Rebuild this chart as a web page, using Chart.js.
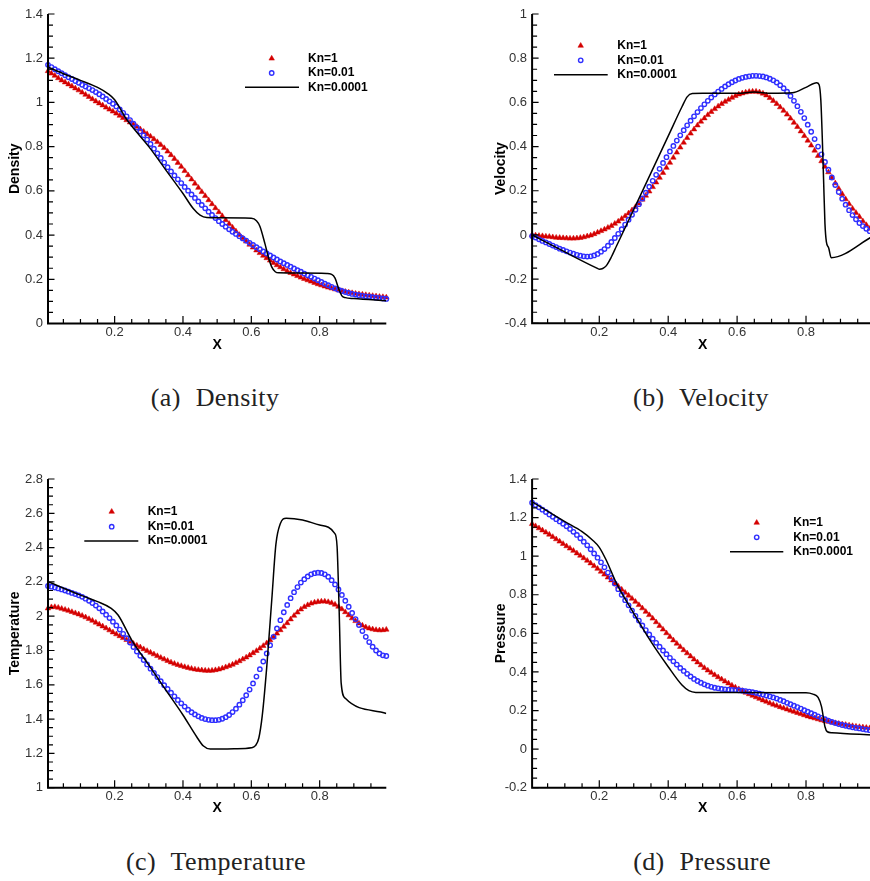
<!DOCTYPE html>
<html>
<head>
<meta charset="utf-8">
<title>Kn comparison</title>
<script src="https://cdn.jsdelivr.net/npm/chart.js@4.4.0/dist/chart.umd.min.js"></script>
<style>
  html, body { margin: 0; padding: 0; background: #fff; }
  body { position: relative; width: 870px; height: 881px; overflow: hidden; }
  .panel { position: absolute; height: 360px; }
  .caption {
    position: absolute; width: 300px; text-align: center;
    font-family: "Liberation Serif", "DejaVu Serif", serif;
    font-size: 26px; line-height: 26px; color: #222;
    letter-spacing: 0.4px; word-spacing: 8px;
  }
</style>
</head>
<body>
<div class="panel" style="left:0;top:0;width:435px"><canvas id="density"></canvas></div>
<div class="panel" style="left:435px;top:0;width:445px"><canvas id="velocity"></canvas></div>
<div class="panel" style="left:0;top:460px;width:435px"><canvas id="temperature"></canvas></div>
<div class="panel" style="left:435px;top:460px;width:445px"><canvas id="pressure"></canvas></div>

<div class="caption" style="left:65px;top:385px">(a) Density</div>
<div class="caption" style="left:551px;top:385px">(b) Velocity</div>
<div class="caption" style="left:66px;top:849px">(c) Temperature</div>
<div class="caption" style="left:552px;top:849px">(d) Pressure</div>

<script>
// cell centres of the 100-cell grid
const cellX = Array.from({ length: 100 }, (_, i) => (i + 0.5) / 100);
const X_MIN = 0.005;
const X_MAX = 0.995;

const xTickLabels = ['0.2', '0.4', '0.6', '0.8'];
const densityTickLabels = ['0', '0.2', '0.4', '0.6', '0.8', '1', '1.2', '1.4'];
const velocityTickLabels = ['-0.4', '-0.2', '0', '0.2', '0.4', '0.6', '0.8', '1'];
const temperatureTickLabels = ['1', '1.2', '1.4', '1.6', '1.8', '2', '2.2', '2.4', '2.6', '2.8'];
const pressureTickLabels = ['-0.2', '0', '0.2', '0.4', '0.6', '0.8', '1', '1.2', '1.4'];

// ---- density ----
const densityKn1 = [
  1.142, 1.131, 1.121, 1.110, 1.100, 1.091, 1.082, 1.073, 1.064, 1.055,
  1.045, 1.035, 1.025, 1.015, 1.005, 0.996, 0.987, 0.977, 0.968, 0.959,
  0.950, 0.940, 0.930, 0.920, 0.910, 0.900, 0.890, 0.879, 0.868, 0.857,
  0.846, 0.834, 0.821, 0.808, 0.794, 0.778, 0.762, 0.745, 0.727, 0.709,
  0.690, 0.671, 0.652, 0.633, 0.614, 0.595, 0.577, 0.558, 0.540, 0.522,
  0.504, 0.486, 0.468, 0.451, 0.434, 0.417, 0.401, 0.386, 0.371, 0.357,
  0.344, 0.331, 0.319, 0.307, 0.296, 0.285, 0.274, 0.264, 0.255, 0.246,
  0.237, 0.229, 0.222, 0.215, 0.208, 0.202, 0.196, 0.190, 0.184, 0.178,
  0.173, 0.168, 0.163, 0.159, 0.155, 0.151, 0.147, 0.144, 0.141, 0.138,
  0.135, 0.133, 0.131, 0.129, 0.127, 0.125, 0.123, 0.121, 0.120, 0.118
];
const densityKn001 = [
  1.170, 1.160, 1.150, 1.141, 1.132, 1.123, 1.114, 1.106, 1.097, 1.089,
  1.080, 1.072, 1.064, 1.056, 1.047, 1.037, 1.027, 1.016, 1.005, 0.994,
  0.982, 0.968, 0.953, 0.937, 0.920, 0.904, 0.887, 0.869, 0.851, 0.832,
  0.812, 0.791, 0.770, 0.749, 0.728, 0.707, 0.688, 0.670, 0.652, 0.635,
  0.618, 0.601, 0.584, 0.568, 0.552, 0.536, 0.521, 0.506, 0.491, 0.477,
  0.463, 0.450, 0.438, 0.426, 0.415, 0.405, 0.395, 0.385, 0.375, 0.365,
  0.355, 0.345, 0.336, 0.326, 0.317, 0.308, 0.299, 0.290, 0.281, 0.273,
  0.265, 0.257, 0.249, 0.241, 0.234, 0.226, 0.218, 0.211, 0.203, 0.196,
  0.188, 0.180, 0.173, 0.166, 0.159, 0.153, 0.147, 0.142, 0.138, 0.134,
  0.131, 0.128, 0.125, 0.123, 0.121, 0.119, 0.117, 0.115, 0.113, 0.111
];
const densityLineX = [0.005, 0.05, 0.1, 0.15, 0.18, 0.2, 0.215, 0.23, 0.25, 0.3, 0.35, 0.4, 0.43, 0.45, 0.47, 0.5,
  0.6, 0.615, 0.625, 0.64, 0.65, 0.66, 0.67, 0.68, 0.75, 0.82, 0.835, 0.845, 0.855, 0.865, 0.875, 0.9, 0.995];
const densityLineY = [1.16, 1.13, 1.10, 1.068, 1.04, 1.012, 0.975, 0.935, 0.893, 0.80, 0.694, 0.588, 0.52, 0.49, 0.479, 0.478,
  0.476, 0.465, 0.44, 0.36, 0.30, 0.255, 0.234, 0.229, 0.228, 0.226, 0.222, 0.205, 0.16, 0.125, 0.117, 0.113, 0.103];

// ---- velocity ----
const velocityKn1 = [
  0.000, -0.002, -0.004, -0.005, -0.007, -0.008, -0.010, -0.012, -0.013, -0.014,
  -0.015, -0.016, -0.016, -0.015, -0.013, -0.010, -0.006, -0.002, 0.004, 0.011,
  0.018, 0.025, 0.033, 0.041, 0.051, 0.061, 0.073, 0.085, 0.098, 0.112,
  0.127, 0.143, 0.160, 0.178, 0.197, 0.217, 0.238, 0.259, 0.281, 0.304,
  0.327, 0.350, 0.373, 0.396, 0.418, 0.439, 0.459, 0.478, 0.496, 0.513,
  0.528, 0.543, 0.557, 0.570, 0.582, 0.593, 0.603, 0.612, 0.621, 0.629,
  0.636, 0.641, 0.645, 0.648, 0.649, 0.649, 0.646, 0.640, 0.632, 0.620,
  0.607, 0.593, 0.578, 0.562, 0.545, 0.527, 0.508, 0.489, 0.469, 0.448,
  0.427, 0.405, 0.382, 0.358, 0.334, 0.309, 0.284, 0.259, 0.234, 0.209,
  0.185, 0.162, 0.140, 0.119, 0.100, 0.082, 0.062, 0.045, 0.028, 0.013
];
const velocityKn001 = [
  -0.005, -0.012, -0.020, -0.027, -0.034, -0.041, -0.048, -0.055, -0.062, -0.068,
  -0.074, -0.080, -0.085, -0.090, -0.094, -0.097, -0.098, -0.097, -0.093, -0.086,
  -0.076, -0.064, -0.049, -0.032, -0.014, 0.005, 0.026, 0.047, 0.069, 0.091,
  0.114, 0.139, 0.165, 0.191, 0.218, 0.245, 0.272, 0.299, 0.326, 0.352,
  0.378, 0.403, 0.427, 0.451, 0.474, 0.496, 0.517, 0.537, 0.556, 0.574,
  0.591, 0.607, 0.622, 0.636, 0.649, 0.661, 0.672, 0.682, 0.691, 0.699,
  0.706, 0.711, 0.715, 0.718, 0.720, 0.720, 0.719, 0.717, 0.713, 0.707,
  0.700, 0.690, 0.678, 0.664, 0.648, 0.629, 0.607, 0.583, 0.557, 0.529,
  0.499, 0.467, 0.434, 0.400, 0.365, 0.330, 0.295, 0.260, 0.226, 0.194,
  0.164, 0.137, 0.112, 0.090, 0.071, 0.054, 0.040, 0.028, 0.017, 0.008
];
const velocityLineX = [0.005, 0.1, 0.19, 0.2, 0.21, 0.22, 0.235, 0.25, 0.3, 0.35, 0.4, 0.44, 0.455, 0.47, 0.5,
  0.6, 0.65, 0.7, 0.76, 0.8, 0.831, 0.838, 0.843, 0.847, 0.851, 0.855, 0.859, 0.866, 0.873, 0.995];
const velocityLineY = [0.0, -0.077, -0.148, -0.155, -0.152, -0.14, -0.10, -0.05, 0.115, 0.281, 0.447, 0.58, 0.625, 0.64, 0.641,
  0.641, 0.647, 0.641, 0.643, 0.668, 0.689, 0.68, 0.61, 0.45, 0.25, 0.05, -0.03, -0.06, -0.103, -0.005];

// ---- temperature ----
const temperatureKn1 = [
  2.046, 2.053, 2.054, 2.050, 2.044, 2.038, 2.032, 2.025, 2.018, 2.011,
  2.003, 1.994, 1.984, 1.974, 1.963, 1.952, 1.941, 1.930, 1.918, 1.906,
  1.895, 1.884, 1.873, 1.862, 1.851, 1.840, 1.829, 1.819, 1.808, 1.798,
  1.788, 1.778, 1.768, 1.758, 1.749, 1.740, 1.731, 1.723, 1.716, 1.710,
  1.704, 1.699, 1.694, 1.690, 1.687, 1.685, 1.683, 1.682, 1.683, 1.686,
  1.690, 1.696, 1.703, 1.710, 1.718, 1.728, 1.738, 1.749, 1.760, 1.772,
  1.785, 1.798, 1.812, 1.827, 1.843, 1.860, 1.879, 1.899, 1.919, 1.939,
  1.960, 1.982, 2.003, 2.022, 2.040, 2.054, 2.065, 2.074, 2.080, 2.084,
  2.086, 2.086, 2.083, 2.077, 2.068, 2.056, 2.041, 2.024, 2.006, 1.988,
  1.972, 1.958, 1.946, 1.936, 1.929, 1.924, 1.920, 1.918, 1.919, 1.922
];
const temperatureKn001 = [
  2.176, 2.172, 2.167, 2.162, 2.156, 2.150, 2.143, 2.136, 2.129, 2.122,
  2.113, 2.102, 2.090, 2.077, 2.062, 2.046, 2.028, 2.009, 1.989, 1.968,
  1.946, 1.922, 1.897, 1.872, 1.846, 1.820, 1.794, 1.769, 1.744, 1.719,
  1.694, 1.669, 1.645, 1.621, 1.598, 1.576, 1.554, 1.533, 1.512, 1.492,
  1.473, 1.455, 1.440, 1.427, 1.416, 1.407, 1.400, 1.396, 1.394, 1.394,
  1.396, 1.402, 1.411, 1.424, 1.441, 1.461, 1.484, 1.510, 1.539, 1.572,
  1.608, 1.648, 1.691, 1.736, 1.783, 1.831, 1.880, 1.929, 1.977, 2.023,
  2.066, 2.105, 2.140, 2.170, 2.196, 2.216, 2.232, 2.244, 2.251, 2.254,
  2.252, 2.244, 2.230, 2.210, 2.185, 2.156, 2.124, 2.090, 2.055, 2.019,
  1.983, 1.948, 1.913, 1.880, 1.849, 1.822, 1.800, 1.783, 1.772, 1.768
];
const temperatureLineX = [0.005, 0.1, 0.15, 0.19, 0.21, 0.25, 0.3, 0.35, 0.4, 0.44, 0.46, 0.48, 0.55, 0.6, 0.612,
  0.622, 0.632, 0.645, 0.66, 0.672, 0.685, 0.702, 0.75, 0.8, 0.844, 0.851, 0.857, 0.863, 0.875, 0.995];
const temperatureLineY = [2.201, 2.123, 2.085, 2.046, 2.007, 1.861, 1.715, 1.569, 1.424, 1.297, 1.243, 1.225, 1.227, 1.233, 1.245,
  1.29, 1.42, 1.70, 2.10, 2.42, 2.54, 2.571, 2.561, 2.532, 2.483, 2.405, 2.036, 1.608, 1.521, 1.433];

// ---- pressure ----
const pressureKn1 = [
  1.167, 1.156, 1.145, 1.134, 1.123, 1.112, 1.100, 1.088, 1.076, 1.064,
  1.052, 1.040, 1.028, 1.015, 1.003, 0.990, 0.977, 0.963, 0.949, 0.935,
  0.920, 0.905, 0.890, 0.875, 0.859, 0.843, 0.827, 0.811, 0.796, 0.780,
  0.764, 0.747, 0.730, 0.712, 0.695, 0.677, 0.658, 0.639, 0.620, 0.601,
  0.582, 0.564, 0.547, 0.530, 0.513, 0.497, 0.481, 0.465, 0.450, 0.435,
  0.421, 0.408, 0.396, 0.384, 0.373, 0.362, 0.351, 0.341, 0.330, 0.320,
  0.311, 0.302, 0.293, 0.285, 0.277, 0.269, 0.261, 0.253, 0.246, 0.238,
  0.231, 0.225, 0.218, 0.212, 0.206, 0.200, 0.194, 0.188, 0.182, 0.176,
  0.170, 0.165, 0.160, 0.155, 0.150, 0.146, 0.142, 0.138, 0.135, 0.132,
  0.129, 0.126, 0.123, 0.120, 0.117, 0.115, 0.113, 0.111, 0.109, 0.107
];
const pressureKn001 = [
  1.277, 1.265, 1.253, 1.241, 1.229, 1.216, 1.204, 1.192, 1.180, 1.168,
  1.155, 1.141, 1.126, 1.110, 1.093, 1.075, 1.056, 1.036, 1.014, 0.992,
  0.968, 0.942, 0.915, 0.887, 0.858, 0.829, 0.800, 0.772, 0.745, 0.718,
  0.691, 0.666, 0.641, 0.617, 0.594, 0.572, 0.551, 0.531, 0.511, 0.492,
  0.473, 0.455, 0.438, 0.421, 0.405, 0.390, 0.377, 0.364, 0.353, 0.344,
  0.336, 0.329, 0.323, 0.318, 0.315, 0.312, 0.310, 0.308, 0.307, 0.306,
  0.305, 0.303, 0.301, 0.298, 0.295, 0.291, 0.287, 0.283, 0.278, 0.273,
  0.268, 0.262, 0.255, 0.248, 0.240, 0.233, 0.225, 0.218, 0.210, 0.202,
  0.194, 0.186, 0.178, 0.170, 0.162, 0.155, 0.148, 0.141, 0.135, 0.130,
  0.125, 0.121, 0.117, 0.113, 0.110, 0.107, 0.104, 0.101, 0.098, 0.095
];
const pressureLineX = [0.005, 0.1, 0.15, 0.18, 0.2, 0.22, 0.25, 0.3, 0.35, 0.4, 0.44, 0.46, 0.48,
  0.6, 0.8, 0.82, 0.835, 0.845, 0.855, 0.862, 0.875, 0.995];
const pressureLineY = [1.282, 1.179, 1.127, 1.084, 1.046, 0.98, 0.859, 0.704, 0.557, 0.427, 0.332, 0.303, 0.294,
  0.294, 0.292, 0.285, 0.268, 0.22, 0.116, 0.09, 0.085, 0.073];

const RED = '#d40000';
const BLUE = '#2f2fff';
const SANS = '"Liberation Sans", Arial, Helvetica, sans-serif';

Chart.defaults.font.family = SANS;

// left/bottom axis lines with inward major and minor ticks
const axisFrame = {
  id: 'axisFrame',
  afterDatasetsDraw(chart, args, o) {
    const { ctx, chartArea: a } = chart;
    const xs = chart.scales.x;
    const ys = chart.scales.y;
    ctx.save();
    ctx.strokeStyle = '#000';
    ctx.lineWidth = 1.2;
    ctx.beginPath();
    const nx = Math.round(1 / o.step);
    for (let k = 1; k < nx; k++) {
      const v = k * o.step;
      if (v < xs.min || v > xs.max) continue;
      const px = xs.getPixelForValue(v);
      ctx.moveTo(px, a.bottom);
      ctx.lineTo(px, a.bottom - (k % 4 === 0 ? o.xMajor : o.xMinor));
    }
    const ny = Math.round((ys.max - ys.min) / o.step);
    for (let k = 0; k <= ny; k++) {
      const py = ys.getPixelForValue(ys.min + k * o.step);
      ctx.moveTo(a.left, py);
      ctx.lineTo(a.left + (k % 4 === 0 ? o.yMajor : o.yMinor), py);
    }
    ctx.stroke();
    ctx.lineWidth = 2;
    ctx.beginPath();
    ctx.moveTo(a.left, a.top);
    ctx.lineTo(a.left, a.bottom);
    ctx.lineTo(a.right, a.bottom);
    ctx.stroke();
    ctx.restore();
  }
};

// legend drawn inside the plot area
const keyBox = {
  id: 'keyBox',
  afterDraw(chart, args, o) {
    const { ctx } = chart;
    ctx.save();
    ctx.font = 'bold 12px ' + SANS;
    ctx.textBaseline = 'middle';
    chart.data.datasets.forEach((ds, i) => {
      const y = o.rows[i];
      if (ds.showLine) {
        ctx.strokeStyle = ds.borderColor;
        ctx.lineWidth = ds.borderWidth;
        ctx.beginPath();
        ctx.moveTo(o.lineFrom, y);
        ctx.lineTo(o.lineTo, y);
        ctx.stroke();
      } else {
        ctx.fillStyle = ds.pointBackgroundColor;
        ctx.strokeStyle = ds.pointBorderColor;
        ctx.lineWidth = ds.pointBorderWidth;
        Chart.helpers.drawPoint(ctx, {
          pointStyle: ds.pointStyle, radius: ds.pointRadius,
          borderWidth: ds.pointBorderWidth, rotation: 0
        }, o.markX, y);
      }
      ctx.fillStyle = '#000';
      ctx.fillText(ds.label, o.textX, y);
    });
    ctx.restore();
  }
};

function buildPanel(p) {
  const yTicks = p.yLabels.map(Number);
  const xTicks = xTickLabels.map(Number);
  return new Chart(document.getElementById(p.id), {
    type: 'scatter',
    data: {
      datasets: [
        {
          label: 'Kn=1',
          data: p.kn1.map((v, i) => ({ x: cellX[i], y: v })),
          showLine: false,
          pointStyle: 'triangle',
          pointRadius: 3.2,
          pointBackgroundColor: RED,
          pointBorderColor: RED,
          pointBorderWidth: 0.5,
          clip: false,
          order: 3
        },
        {
          label: 'Kn=0.01',
          data: p.kn001.map((v, i) => ({ x: cellX[i], y: v })),
          showLine: false,
          pointStyle: 'circle',
          pointRadius: 2.2,
          pointBackgroundColor: 'rgba(0,0,0,0)',
          pointBorderColor: BLUE,
          pointBorderWidth: 1.4,
          clip: false,
          order: 2
        },
        {
          label: 'Kn=0.0001',
          data: p.lineX.map((x, i) => ({ x, y: p.lineY[i] })),
          showLine: true,
          pointRadius: 0,
          borderColor: '#000',
          borderWidth: 1.5,
          cubicInterpolationMode: 'monotone',
          order: 1
        }
      ]
    },
    options: {
      responsive: true,
      maintainAspectRatio: false,
      animation: false,
      events: [],
      layout: { padding: { top: p.box.top, right: p.box.right, bottom: 0, left: 0 } },
      plugins: {
        legend: { display: false },
        tooltip: { enabled: false },
        axisFrame: { step: 0.05, xMajor: 7.5, xMinor: 4.5, yMajor: 6.5, yMinor: 5 },
        keyBox: p.key
      },
      scales: {
        x: {
          type: 'linear',
          min: X_MIN,
          max: X_MAX,
          afterBuildTicks: s => { s.ticks = xTicks.map(value => ({ value })); },
          afterFit: s => { s.height = p.box.bottom; },
          grid: { display: false, drawTicks: false },
          border: { display: false },
          ticks: {
            padding: 1, color: '#333', font: { size: 13 },
            maxRotation: 0, autoSkip: false,
            callback: (v, i) => xTickLabels[i]
          },
          title: {
            display: true, text: 'X', color: '#000',
            font: { size: 14, weight: 'bold' },
            padding: { top: 0, bottom: p.xTitlePad }
          }
        },
        y: {
          type: 'linear',
          min: yTicks[0],
          max: yTicks[yTicks.length - 1],
          afterBuildTicks: s => { s.ticks = yTicks.map(value => ({ value })); },
          afterFit: s => { s.width = p.box.left; },
          grid: { display: false, drawTicks: false },
          border: { display: false },
          ticks: {
            padding: 5, color: '#333', font: { size: 13 },
            autoSkip: false,
            callback: (v, i) => p.yLabels[i]
          },
          title: {
            display: true, text: p.title, color: '#000',
            font: { size: 14, weight: 'bold' },
            padding: { top: p.yTitlePad, bottom: 0 }
          }
        }
      }
    },
    plugins: [axisFrame, keyBox]
  });
}

buildPanel({
  id: 'density', title: 'Density', yLabels: densityTickLabels,
  kn1: densityKn1, kn001: densityKn001, lineX: densityLineX, lineY: densityLineY,
  box: { left: 48, right: 48.7, top: 14, bottom: 36.5 }, yTitlePad: 6.6, xTitlePad: 6.6,
  key: { markX: 271.7, lineFrom: 245, lineTo: 299, textX: 308, rows: [58.5, 73, 87.3] }
});
buildPanel({
  id: 'velocity', title: 'Velocity', yLabels: velocityTickLabels,
  kn1: velocityKn1, kn001: velocityKn001, lineX: velocityLineX, lineY: velocityLineY,
  box: { left: 97.1, right: 6.8, top: 14, bottom: 36.7 }, yTitlePad: 57.6, xTitlePad: 6.6,
  key: { markX: 145.7, lineFrom: 119, lineTo: 172.7, textX: 182.3, rows: [45.7, 60.3, 74.7] }
});
buildPanel({
  id: 'temperature', title: 'Temperature', yLabels: temperatureTickLabels,
  kn1: temperatureKn1, kn001: temperatureKn001, lineX: temperatureLineX, lineY: temperatureLineY,
  box: { left: 48, right: 48.7, top: 19, bottom: 32.3 }, yTitlePad: 6.6, xTitlePad: 3.3,
  key: { markX: 111.7, lineFrom: 84.3, lineTo: 138.3, textX: 147.7, rows: [51.7, 66.7, 81] }
});
buildPanel({
  id: 'pressure', title: 'Pressure', yLabels: pressureTickLabels,
  kn1: pressureKn1, kn001: pressureKn001, lineX: pressureLineX, lineY: pressureLineY,
  box: { left: 97.1, right: 6.8, top: 19, bottom: 32.3 }, yTitlePad: 57.6, xTitlePad: 3.3,
  key: { markX: 321.7, lineFrom: 295, lineTo: 348.3, textX: 358.3, rows: [62.7, 77.3, 91.7] }
});
</script>
</body>
</html>
